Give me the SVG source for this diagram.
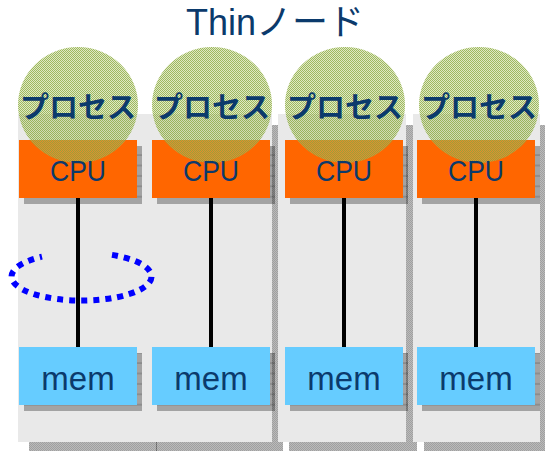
<svg xmlns="http://www.w3.org/2000/svg" width="545" height="451" viewBox="0 0 545 451">
  <defs>
    <!-- halftone grey used for all drop shadows -->
    <pattern id="shade" width="2" height="2" patternUnits="userSpaceOnUse">
      <rect width="2" height="2" fill="#000" fill-opacity="0.27"/>
      <rect width="1" height="1" fill="#000" fill-opacity="0.14"/>
      <rect x="1" y="1" width="1" height="1" fill="#000" fill-opacity="0.14"/>
    </pattern>
    <!-- box shadow: halftone plus faint horizontal rules -->
    <pattern id="boxshade" width="2" height="10.4" patternUnits="userSpaceOnUse" y="0">
      <rect width="2" height="10.4" fill="#000" fill-opacity="0.3"/>
      <rect y="9" width="2" height="1" fill="#000" fill-opacity="0.25"/>
    </pattern>
    <!-- grainy translucent green for the process discs -->
    <pattern id="disc" width="2" height="2" patternUnits="userSpaceOnUse">
      <rect width="2" height="2" fill="#b3cb70" fill-opacity="0.42"/>
      <rect width="1" height="1" fill="#86a53a" fill-opacity="0.72"/>
      <rect x="1" y="1" width="1" height="1" fill="#86a53a" fill-opacity="0.72"/>
    </pattern>
  </defs>
  <style>
    .panel { fill: #e9e9e9; }
    .pshadow { fill: url(#shade); }
    .bshadow { fill: url(#boxshade); }
    .cpu { fill: #ff6600; }
    .mem { fill: #66ccff; }
    .disc { fill: url(#disc); }
    .lbl { font-family: "Liberation Sans", Arial, sans-serif; fill: #0b3a6c; text-anchor: middle; }
    .cpu-t { font-size: 30px; }
    .mem-t { font-size: 33px; }
    .proc { font-family: "Noto Sans CJK JP", sans-serif; font-weight: bold; font-size: 29px; fill: #0b3a6c; text-anchor: middle; }
    .title { font-family: "Liberation Sans", "Noto Sans CJK JP", sans-serif; font-size: 36px; fill: #0b3a6c; text-anchor: middle; }
    .link { stroke: #000; stroke-width: 4; fill: none; }
    .spin { stroke: #0000ff; stroke-width: 6; stroke-dasharray: 6 6; fill: none; }
  </style>

  <text class="title" x="275" y="35">Thinノード</text>

  <!-- node panels (shadow first, then body) -->
  <g id="panels">
    <rect class="pshadow" x="29" y="125" width="128" height="330"/>
    <rect class="panel" x="18" y="114" width="128" height="328"/>
    <rect class="pshadow" x="156" y="125" width="127" height="330"/>
    <rect class="panel" x="145" y="114" width="127" height="328"/>
    <rect class="pshadow" x="289" y="125" width="128" height="330"/>
    <rect class="panel" x="278" y="114" width="128" height="328"/>
    <rect class="pshadow" x="424" y="125" width="127" height="330"/>
    <rect class="panel" x="413" y="114" width="127" height="328"/>
  </g>

  <!-- CPU to memory links -->
  <g id="connectors">
    <line class="link" x1="78" y1="198" x2="78" y2="347"/>
    <line class="link" x1="211" y1="198" x2="211" y2="347"/>
    <line class="link" x1="344" y1="198" x2="344" y2="347"/>
    <line class="link" x1="476" y1="198" x2="476" y2="347"/>
  </g>

  <g id="node1">
    <rect class="bshadow" x="24" y="146" width="118" height="58"/>
    <rect class="cpu" x="19" y="140" width="118" height="58"/>
    <rect class="bshadow" x="24" y="353" width="118" height="58"/>
    <rect class="mem" x="19" y="347" width="118" height="58"/>
    <ellipse class="disc" cx="78" cy="105" rx="60" ry="58"/>
    <text class="proc" x="78" y="118">プロセス</text>
    <text class="lbl cpu-t" x="78" y="181" textLength="56" lengthAdjust="spacingAndGlyphs">CPU</text>
    <text class="lbl mem-t" x="78" y="390">mem</text>
  </g>

  <g id="node2">
    <rect class="bshadow" x="157" y="146" width="118" height="58"/>
    <rect class="cpu" x="152" y="140" width="118" height="58"/>
    <rect class="bshadow" x="157" y="353" width="118" height="58"/>
    <rect class="mem" x="152" y="347" width="118" height="58"/>
    <ellipse class="disc" cx="212" cy="105" rx="60" ry="58"/>
    <text class="proc" x="212" y="118">プロセス</text>
    <text class="lbl cpu-t" x="211" y="181" textLength="56" lengthAdjust="spacingAndGlyphs">CPU</text>
    <text class="lbl mem-t" x="211" y="390">mem</text>
  </g>

  <g id="node3">
    <rect class="bshadow" x="290" y="146" width="118" height="58"/>
    <rect class="cpu" x="285" y="140" width="118" height="58"/>
    <rect class="bshadow" x="290" y="353" width="118" height="58"/>
    <rect class="mem" x="285" y="347" width="118" height="58"/>
    <ellipse class="disc" cx="345" cy="105" rx="60" ry="58"/>
    <text class="proc" x="345" y="118">プロセス</text>
    <text class="lbl cpu-t" x="344" y="181" textLength="56" lengthAdjust="spacingAndGlyphs">CPU</text>
    <text class="lbl mem-t" x="344" y="390">mem</text>
  </g>

  <g id="node4">
    <rect class="bshadow" x="422" y="146" width="118" height="58"/>
    <rect class="cpu" x="417" y="140" width="118" height="58"/>
    <rect class="bshadow" x="422" y="353" width="118" height="58"/>
    <rect class="mem" x="417" y="347" width="118" height="58"/>
    <ellipse class="disc" cx="479" cy="105" rx="60" ry="58"/>
    <text class="proc" x="479" y="118">プロセス</text>
    <text class="lbl cpu-t" x="476" y="181" textLength="56" lengthAdjust="spacingAndGlyphs">CPU</text>
    <text class="lbl mem-t" x="476" y="390">mem</text>
  </g>

  <!-- dotted rotation mark around the first link -->
  <g id="rotation">
    <path class="spin" d="M112,254.9 A70,24 0 1 1 42,256.7"/>
  </g>
</svg>
